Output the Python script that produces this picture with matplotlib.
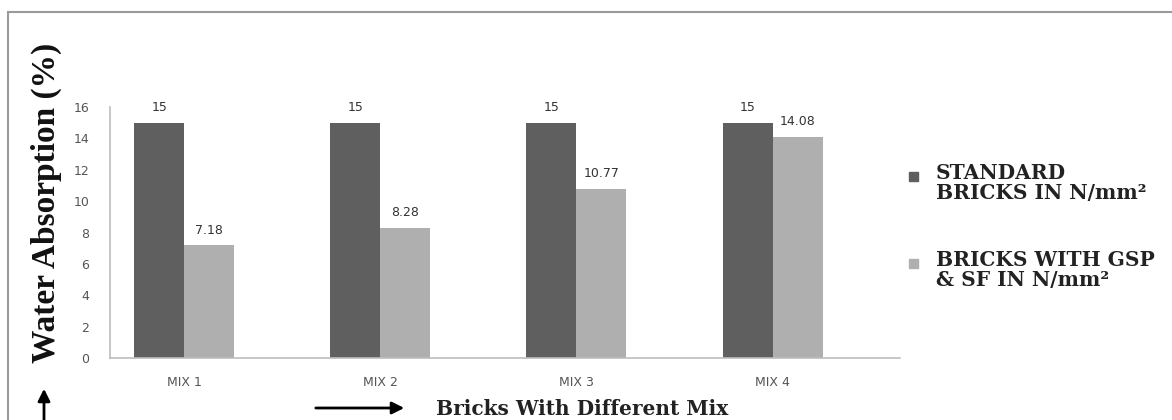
import matplotlib.pyplot as plt
import matplotlib.patches as mpatches
import numpy as np

mixes = ["MIX 1", "MIX 2", "MIX 3", "MIX 4"]
standard = [15, 15, 15, 15]
gsp_sf = [7.18, 8.28, 10.77, 14.08]
yticks = [0, 2, 4, 6, 8, 10, 12, 14, 16]

W, H = 1172, 420
fig = plt.figure(figsize=(W / 100, H / 100), dpi=100)

# outer frame, runs off the right and bottom edges
fig.patches.append(mpatches.Rectangle((8 / W, -0.1), 1.2, 1 - 12 / H + 0.1,
                                      transform=fig.transFigure, fill=False,
                                      edgecolor="#9a9a9a", linewidth=1.5))

ax = fig.add_axes([110 / W, 62 / H, 790 / W, 251 / H])
x = np.arange(len(mixes))
w = 0.255
dark = "#5f5f5f"
light = "#afafaf"
ax.bar(x - w / 2, standard, w, color=dark)
ax.bar(x + w / 2, gsp_sf, w, color=light)

lab_font = dict(fontsize=9, color="#333333", family="DejaVu Sans")
for xi, v in zip(x, standard):
    ax.text(xi - w / 2, v + 0.55, f"{v:g}", ha="center", va="bottom", **lab_font)
for xi, v in zip(x, gsp_sf):
    ax.text(xi + w / 2, v + 0.55, f"{v:.2f}".rstrip("0").rstrip("."),
            ha="center", va="bottom", **lab_font)

ax.set_xlim(-0.378, 3.65)
ax.set_ylim(0, 16)
ax.set_yticks(yticks)
ax.set_xticks(x)
ax.set_xticklabels(mixes)
ax.tick_params(axis="both", length=0, labelsize=9, labelcolor="#555555")
ax.tick_params(axis="x", pad=13)
ax.tick_params(axis="y", pad=15)
for s in ["top", "right"]:
    ax.spines[s].set_visible(False)
for s in ["left", "bottom"]:
    ax.spines[s].set_color("#bdbdbd")
    ax.spines[s].set_linewidth(1.2)

fig.text(46 / W, 1 - 203 / H, "Water Absorption (%)", rotation=90,
         ha="center", va="center", family="Liberation Serif", fontweight="bold",
         fontsize=24, color="#111111")

# legend drawn by hand
wide_serif = dict(family="DejaVu Serif", fontweight="bold", color="#222222")
fig.patches.append(mpatches.Rectangle((909 / W, 1 - 181 / H), 9 / W, 9 / H,
                                      transform=fig.transFigure, color=dark))
fig.patches.append(mpatches.Rectangle((909 / W, 1 - 268 / H), 9 / W, 9 / H,
                                      transform=fig.transFigure, color=light))
fig.text(936 / W, 1 - 183 / H, "STANDARD\nBRICKS IN N/mm²", ha="left",
         va="center", fontsize=14.5, linespacing=0.95, **wide_serif)
fig.text(936 / W, 1 - 270 / H, "BRICKS WITH GSP\n& SF IN N/mm²", ha="left",
         va="center", fontsize=14.5, linespacing=0.95, **wide_serif)

# axis direction arrows
fig.patches.append(mpatches.FancyArrowPatch((313 / W, 1 - 408 / H), (407 / W, 1 - 408 / H),
                                            transform=fig.transFigure, arrowstyle="-|>",
                                            mutation_scale=18, color="black", linewidth=2))
fig.patches.append(mpatches.FancyArrowPatch((44 / W, -0.05), (44 / W, 1 - 386 / H),
                                            transform=fig.transFigure, arrowstyle="-|>",
                                            mutation_scale=18, color="black", linewidth=2))
fig.text(436 / W, 1 - 409 / H, "Bricks With Different Mix", ha="left", va="center",
         fontsize=14.5, **wide_serif)

fig.savefig("out.png", dpi=100)
